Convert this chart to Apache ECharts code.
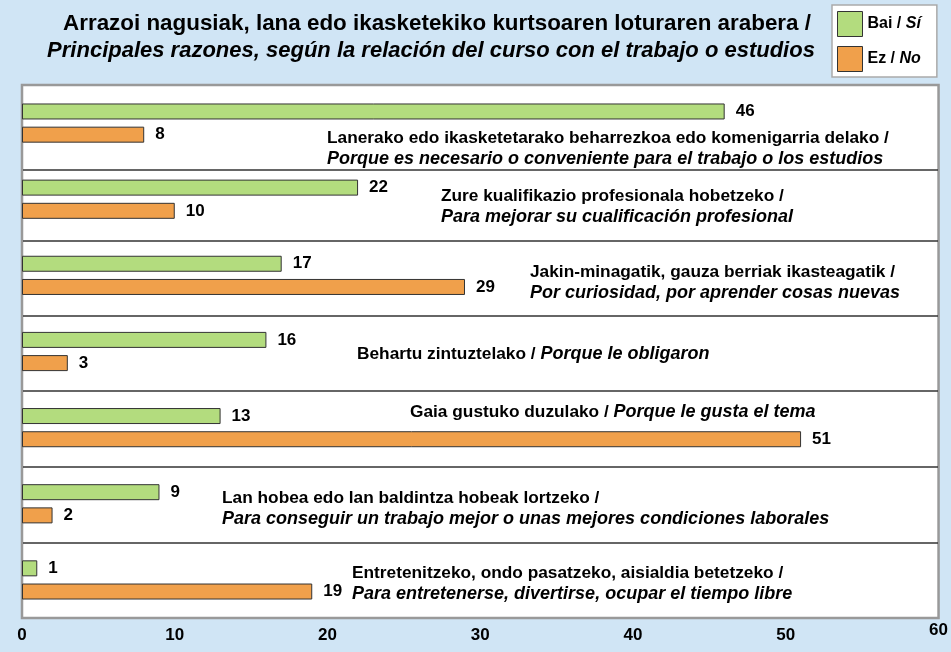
<!DOCTYPE html>
<html>
<head>
<meta charset="utf-8">
<script src="https://cdn.jsdelivr.net/npm/echarts@6/dist/echarts.min.js"></script>
<style>
  html, body { margin: 0; padding: 0; background: #d0e5f5; }
  #main { width: 951px; height: 652px; }
</style>
</head>
<body>
<div id="main"></div>
<script>
// datuak / datos
var razonesEu = [
	'Lanerako edo ikasketetarako beharrezkoa edo komenigarria delako /',
	'Zure kualifikazio profesionala hobetzeko /',
	'Jakin-minagatik, gauza berriak ikasteagatik /',
	'Behartu zintuztelako / ',
	'Gaia gustuko duzulako / ',
	'Lan hobea edo lan baldintza hobeak lortzeko /',
	'Entretenitzeko, ondo pasatzeko, aisialdia betetzeko /'
];
var razonesEs = [
	'Porque es necesario o conveniente para el trabajo o los estudios',
	'Para mejorar su cualificación profesional',
	'Por curiosidad, por aprender cosas nuevas',
	'Porque le obligaron',
	'Porque le gusta el tema',
	'Para conseguir un trabajo mejor o unas mejores condiciones laborales',
	'Para entretenerse, divertirse, ocupar el tiempo libre'
];
var bai = [46, 22, 17, 16, 13, 9, 1];
var ez = [8, 10, 29, 3, 51, 2, 19];
var xTicks = [0, 10, 20, 30, 40, 50, 60];

// testuen kokapena (left, top) eta lerro bakarrekoak
var labelPos = [[327, 127.5], [441, 185.5], [530, 261.5], [357, 343.5], [410, 401.5], [222, 487.5], [352, 562.5]];
var oneLine = [false, false, false, true, true, false, false];
var sepY = [170, 241, 316, 391, 467, 543];

var FONT = "'Liberation Sans', Arial, sans-serif";
var categories = razonesEu.map(function (t, i) { return 'c' + i; });

var graphics = [];
sepY.forEach(function (y) {
	graphics.push({
		type: 'line', z: 5,
		shape: {x1: 23, y1: y, x2: 938, y2: y},
		style: {stroke: '#333', lineWidth: 1.5}
	});
});
razonesEu.forEach(function (eu, i) {
	var txt = oneLine[i]
		? '{n|' + eu + '}{i|' + razonesEs[i] + '}'
		: '{n|' + eu + '}\n{i|' + razonesEs[i] + '}';
	graphics.push({
		type: 'text', z: 6,
		x: labelPos[i][0], y: labelPos[i][1],
		style: {
			text: txt,
			fill: '#000',
			verticalAlign: 'top',
			rich: {
				n: {fontFamily: FONT, fontWeight: 'bold', fontSize: 17.3, lineHeight: 21, fill: '#000'},
				i: {fontFamily: FONT, fontWeight: 'bold', fontStyle: 'italic', fontSize: 18, lineHeight: 21, fill: '#000'}
			}
		}
	});
});

var chart = echarts.init(document.getElementById('main'));
var option = {
	backgroundColor: '#d0e5f5',
	animation: false,
	title: [
		{
			text: 'Arrazoi nagusiak, lana edo ikasketekiko kurtsoaren loturaren arabera /',
			left: 432, top: 8, textAlign: 'center',
			textStyle: {fontFamily: FONT, fontWeight: 'bold', fontSize: 22.4, color: '#000'}
		},
		{
			text: 'Principales razones, según la relación del curso con el trabajo o estudios',
			left: 426, top: 35, textAlign: 'center',
			textStyle: {fontFamily: FONT, fontWeight: 'bold', fontStyle: 'italic', fontSize: 22, color: '#000'}
		}
	],
	legend: {
		orient: 'vertical',
		left: 832, top: 5,
		backgroundColor: '#fff',
		borderColor: '#aaa',
		borderWidth: 1.5,
		padding: [6, 16, 5, 5],
		itemWidth: 25,
		itemHeight: 25,
		itemGap: 9,
		icon: 'rect',
		itemStyle: {borderColor: '#333', borderWidth: 1},
		formatter: function (name) {
			var p = name.split(' / ');
			return '{n|' + p[0] + ' / }{i|' + p[1] + '}';
		},
		textStyle: {
			rich: {
				n: {fontFamily: FONT, fontWeight: 'bold', fontSize: 16, color: '#000'},
				i: {fontFamily: FONT, fontWeight: 'bold', fontStyle: 'italic', fontSize: 16, color: '#000'}
			}
		}
	},
	grid: {
		show: true,
		left: 22, right: 12, top: 85, bottom: 34,
		backgroundColor: '#fff',
		borderColor: '#999',
		borderWidth: 2.5
	},
	xAxis: {
		type: 'value',
		min: 0, max: 60, interval: 10,
		axisLine: {show: false},
		axisTick: {show: false},
		splitLine: {show: false},
		axisLabel: {
			margin: 9,
			fontFamily: FONT, fontWeight: 'bold', fontSize: 17, color: '#000',
			formatter: function (v) {
				if (xTicks.indexOf(v) < 0) return '';
				return v === 60 ? '{up|' + v + '}' : String(v);
			},
			rich: {
				up: {fontFamily: FONT, fontWeight: 'bold', fontSize: 17, color: '#000', lineHeight: 6}
			}
		}
	},
	yAxis: {
		type: 'category',
		inverse: true,
		data: categories,
		axisLine: {show: false},
		axisTick: {show: false},
		axisLabel: {show: false},
		splitLine: {show: false}
	},
	series: [
		{
			name: 'Bai / Sí',
			type: 'bar',
			data: bai,
			barWidth: 16,
			barGap: '45%',
			itemStyle: {color: '#b3dc7e', borderColor: '#333', borderWidth: 1},
			label: {
				show: true, position: 'right', distance: 11,
				fontFamily: FONT, fontWeight: 'bold', fontSize: 17, color: '#000'
			}
		},
		{
			name: 'Ez / No',
			type: 'bar',
			data: ez,
			barWidth: 16,
			itemStyle: {color: '#f0a04b', borderColor: '#333', borderWidth: 1},
			label: {
				show: true, position: 'right', distance: 11,
				fontFamily: FONT, fontWeight: 'bold', fontSize: 17, color: '#000'
			}
		}
	],
	graphic: graphics
};
chart.setOption(option);
</script>
</body>
</html>
